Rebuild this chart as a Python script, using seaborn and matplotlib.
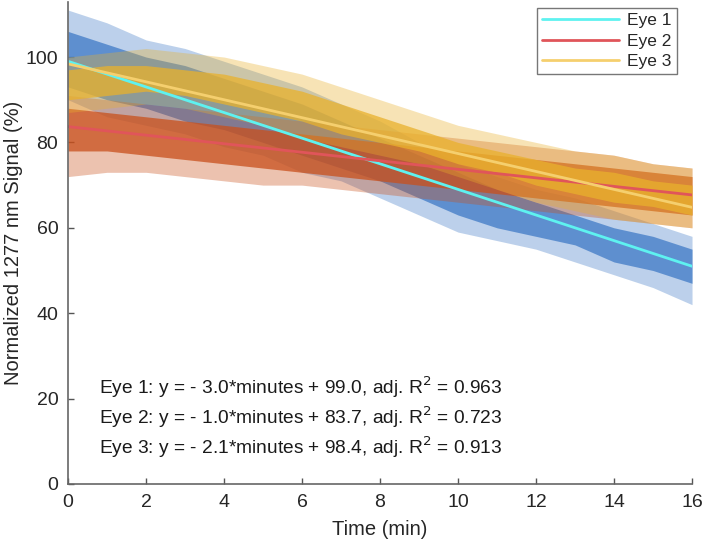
import numpy as np
import pandas as pd
import seaborn as sns
import matplotlib.pyplot as plt

minutes = list(range(0, 17))

# Eye 1 signal envelopes (%)
eye1_outer_hi = [111, 108, 104, 102, 99, 96, 93, 89, 85, 80, 75, 72, 69, 67, 64, 61, 58]
eye1_outer_lo = [90, 86, 84, 82, 79, 77, 73, 71, 67, 63, 59, 57, 55, 52, 49, 46, 42]
eye1_core_hi = [106, 103, 100, 98, 95, 92, 89, 85, 81, 77, 73, 69, 66, 63, 60, 58, 55]
eye1_core_lo = [93, 90, 88, 85, 83, 80, 77, 74, 71, 67, 63, 60, 58, 56, 52, 50, 47]

# Eye 2 signal envelopes (%)
eye2_outer_hi = [91, 90, 89, 88, 87, 86, 85, 84, 83, 82, 81, 80, 79, 78, 77, 75, 74]
eye2_outer_lo = [72, 73, 73, 72, 71, 70, 70, 69, 68, 67, 66, 65, 64, 63, 62, 61, 60]
eye2_core_hi = [88, 87, 86, 85, 84, 83, 82, 81, 80, 79, 78, 77, 76, 75, 74, 73, 72]
eye2_core_lo = [78, 78, 77, 76, 75, 74, 73, 72, 71, 70, 69, 68, 67, 66, 65, 64, 63]

# Eye 3 signal envelopes (%)
eye3_outer_hi = [100, 101, 102, 101, 100, 98, 96, 93, 90, 87, 84, 82, 80, 78, 77, 75, 74]
eye3_outer_lo = [87, 88, 89, 88, 86, 84, 81, 79, 77, 75, 72, 69, 66, 64, 62, 61, 60]
eye3_core_hi = [97, 98, 98, 97, 96, 94, 92, 89, 86, 83, 80, 78, 76, 74, 73, 71, 70]
eye3_core_lo = [90, 91, 92, 91, 89, 87, 85, 82, 80, 78, 75, 73, 70, 68, 66, 65, 63]

# linear fits
eyes = ["Eye 1", "Eye 2", "Eye 3"]
slopes = [-3.0, -1.0, -2.1]
intercepts = [99.0, 83.7, 98.4]
adj_r2 = [0.963, 0.723, 0.913]
fit_range = [0, 16]

band_colors = ["#3f7ac6", "#c9501c", "#e9b12c"]
fit_colors = ["#5ef2f0", "#e0555a", "#f5cf6e"]

sns.set_theme(style="white")
plt.rcParams['font.family'] = ['Liberation Sans', 'DejaVu Sans']

fig = plt.figure(figsize=(7.05, 5.47), dpi=100)
ax = fig.add_axes([0.0965, 0.1152, 0.8851, 0.882])

bands = [
    (eye1_outer_lo, eye1_outer_hi, eye1_core_lo, eye1_core_hi),
    (eye2_outer_lo, eye2_outer_hi, eye2_core_lo, eye2_core_hi),
    (eye3_outer_lo, eye3_outer_hi, eye3_core_lo, eye3_core_hi),
]
for (olo, ohi, clo, chi), c in zip(bands, band_colors):
    ax.fill_between(minutes, olo, ohi, color=c, alpha=0.35, lw=0)
    ax.fill_between(minutes, clo, chi, color=c, alpha=0.75, lw=0)

# fit lines
rows = []
for name, m, b in zip(eyes, slopes, intercepts):
    for t in fit_range:
        rows.append({"minutes": t, "signal": m * t + b, "eye": name})
fit_df = pd.DataFrame(rows)
sns.lineplot(data=fit_df, x="minutes", y="signal", hue="eye",
             palette=fit_colors, lw=2, ax=ax)

ax.set_xlim(0, 16)
ax.set_ylim(0, 113)
ax.set_xticks(range(0, 17, 2))
ax.set_yticks(range(0, 101, 20))
ax.tick_params(direction='in', length=4, width=1, colors='#555555',
               labelcolor='#262626', labelsize=14, bottom=True, left=True, pad=7)
for s in ['top', 'right']:
    ax.spines[s].set_visible(False)
for s in ['left', 'bottom']:
    ax.spines[s].set_color('#666666')
    ax.spines[s].set_linewidth(1.2)
ax.set_xlabel("Time (min)", fontsize=14.5, color='#262626', labelpad=7)
ax.set_ylabel("Normalized 1277 nm Signal (%)", fontsize=14.5, color='#262626', labelpad=2)

leg = ax.legend(loc='upper right', bbox_to_anchor=(677 / 705, 1 - 8 / 547),
                bbox_transform=fig.transFigure, fontsize=12.5, frameon=True,
                fancybox=False, handlelength=4.4, borderaxespad=0, labelspacing=0.3,
                handletextpad=0.5, borderpad=0.3)
leg.get_frame().set_edgecolor('#555555')
leg.get_frame().set_linewidth(1)

y_txt = [22.7, 15.7, 8.7]
for name, m, b, r2, yt in zip(eyes, slopes, intercepts, adj_r2, y_txt):
    ax.text(0.8, yt, f"{name}: y = - {abs(m):.1f}*minutes + {b:.1f}, adj. R$^2$ = {r2:.3f}",
            fontsize=13.8, color='#1a1a1a', va='center', ha='left')

fig.savefig("out.png", dpi=100)
